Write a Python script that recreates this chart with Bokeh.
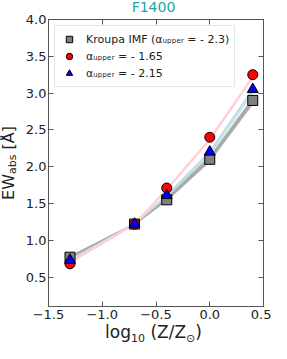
from bokeh.plotting import figure
from bokeh.models import LinearAxis, Range1d, Legend, LegendItem, Div
from bokeh.layouts import column, row
from bokeh.embed import file_html
from bokeh.resources import INLINE

# data
metallicity = [-1.3, -0.7, -0.4, 0.0, 0.4]
ew_kroupa = [0.77, 1.22, 1.55, 2.10, 2.90]
ew_165 = [0.68, 1.22, 1.71, 2.40, 3.25]
ew_215 = [0.73, 1.22, 1.61, 2.20, 3.05]
kroupa_lo = [0.75, 1.21, 1.53, 2.06, 2.84]
kroupa_hi = [0.79, 1.23, 1.60, 2.15, 2.94]
a215_lo = [0.72, 1.21, 1.58, 2.15, 2.98]
a215_hi = [0.75, 1.23, 1.63, 2.22, 3.07]
a165_line = [0.70, 1.22, 1.69, 2.37, 3.22]
x_ticks = [-1.5, -1.0, -0.5, 0.0, 0.5]
x_tick_labels = ["\u22121.5", "\u22121.0", "\u22120.5", "0.0", "0.5"]
y_ticks = [0.5, 1.0, 1.5, 2.0, 2.5, 3.0, 3.5, 4.0]
y_tick_labels = ["0.5", "1.0", "1.5", "2.0", "2.5", "3.0", "3.5", "4.0"]

FONT = "DejaVu Sans"
TXT = "#222222"
AX = "#555555"
TITLE_COLOR = "#20a8a2"

TITLE_H, XLAB_H = 12, 19
FIG_W, FIG_H = 249, 343 - TITLE_H - XLAB_H
YL_W = 271 - FIG_W
p = figure(width=FIG_W, height=FIG_H, output_backend="svg", toolbar_location=None,
           x_range=Range1d(-1.5, 0.5), y_range=Range1d(0.1, 4.0),
           min_border_left=22, min_border_right=8, min_border_top=7, min_border_bottom=18,
           x_axis_location=None, y_axis_location=None)
p.grid.visible = False
p.outline_line_color = AX
p.background_fill_color = "white"
p.border_fill_color = "white"

def style_axis(ax, labels=True):
    ax.ticker.num_minor_ticks = 5
    ax.major_tick_in = 5
    ax.major_tick_out = 0
    ax.minor_tick_in = 3
    ax.minor_tick_out = 0
    ax.axis_line_color = AX
    ax.major_tick_line_color = AX
    ax.minor_tick_line_color = AX
    ax.major_label_text_font = FONT
    ax.major_label_text_font_size = "13px"
    ax.major_label_text_color = TXT
    ax.major_label_standoff = 3
    if not labels:
        ax.major_label_text_color = None
        ax.major_label_standoff = 0

xb = LinearAxis(ticker=x_ticks)
style_axis(xb)
xb.major_label_overrides = dict(zip(x_ticks, x_tick_labels))
p.add_layout(xb, "below")
xa = LinearAxis(ticker=x_ticks)
style_axis(xa, False)
p.add_layout(xa, "above")
yl = LinearAxis(ticker=y_ticks)
style_axis(yl)
yl.major_label_standoff = 2
yl.major_label_overrides = dict(zip(y_ticks, y_tick_labels))
p.add_layout(yl, "left")
yr = LinearAxis(ticker=y_ticks)
style_axis(yr, False)
p.add_layout(yr, "right")

# bands / lines
p.varea(x=metallicity, y1=kroupa_lo, y2=kroupa_hi, fill_color="#aaaaaa", fill_alpha=0.9)
p.line(metallicity, ew_kroupa, line_color="#a8a8a8", line_width=2)
p.varea(x=metallicity, y1=a215_lo, y2=a215_hi, fill_color="#c8e3ec", fill_alpha=0.9)
p.line(metallicity, ew_215, line_color="#bcdde8", line_width=1.5)
p.line(metallicity, a165_line, line_color="#ffd0d8", line_width=2.5)

r1 = p.scatter(metallicity, ew_kroupa, marker="square", size=10, fill_color="#808080", line_color="black", line_width=1)
r2 = p.scatter(metallicity, ew_165, marker="circle", size=10, fill_color="red", line_color="black", line_width=1)
r3 = p.scatter(metallicity, ew_215, marker="triangle", size=11, fill_color="blue", line_color="black", line_width=1)

sub = "\u1d64\u209a\u209a\u2091\u1d63"
legend = Legend(items=[
    LegendItem(label="Kroupa IMF (\u03b1" + sub + " = - 2.3)", renderers=[r1]),
    LegendItem(label="\u03b1" + sub + " = - 1.65", renderers=[r2]),
    LegendItem(label="\u03b1" + sub + " = - 2.15", renderers=[r3]),
], location="top_left")
legend.label_text_font = FONT
legend.label_text_font_size = "11px"
legend.label_text_color = TXT
legend.border_line_color = "#cccccc"
legend.border_line_width = 1
legend.background_fill_alpha = 0.9
legend.margin = 6
legend.padding = 5
legend.spacing = 1
legend.glyph_width = 18
legend.label_standoff = 8
legend.label_height = 16
legend.glyph_height = 16
p.add_layout(legend)

TOTAL_W = YL_W + FIG_W
title_div = Div(
    text=f'<div style="width:{TOTAL_W}px;height:{TITLE_H}px;box-sizing:border-box;padding-left:44px;padding-right:8px;'
         f'text-align:center;font-family:\'{FONT}\';font-size:14px;line-height:{TITLE_H}px;color:{TITLE_COLOR};">F1400</div>',
    width=TOTAL_W, height=TITLE_H, margin=0)
ylab_div = Div(
    text=f'<div style="width:{YL_W}px;height:{FIG_H - 25}px;display:flex;align-items:center;justify-content:center;margin-top:7px;">'
         f'<span style="writing-mode:vertical-rl;transform:rotate(180deg);white-space:nowrap;font-family:\'{FONT}\';'
         f'font-size:16px;line-height:20px;color:{TXT};">EW<sub style="font-size:11px;">abs</sub> [\u00c5]</span></div>',
    width=YL_W, height=FIG_H, margin=0)
xlab_div = Div(
    text=f'<div style="width:{TOTAL_W}px;height:{XLAB_H}px;box-sizing:border-box;padding-left:44px;padding-right:8px;'
         f'text-align:center;white-space:nowrap;font-family:\'{FONT}\';font-size:17px;line-height:17px;color:{TXT};">'
         f'log<sub style="font-size:11px;">10</sub> (Z/Z<sub style="font-size:11px;">\u2299</sub>)</div>',
    width=TOTAL_W, height=XLAB_H, margin=0)

layout = column(title_div, row(ylab_div, p, spacing=0), xlab_div, spacing=0)
open("out.html", "w").write(file_html(layout, INLINE))
